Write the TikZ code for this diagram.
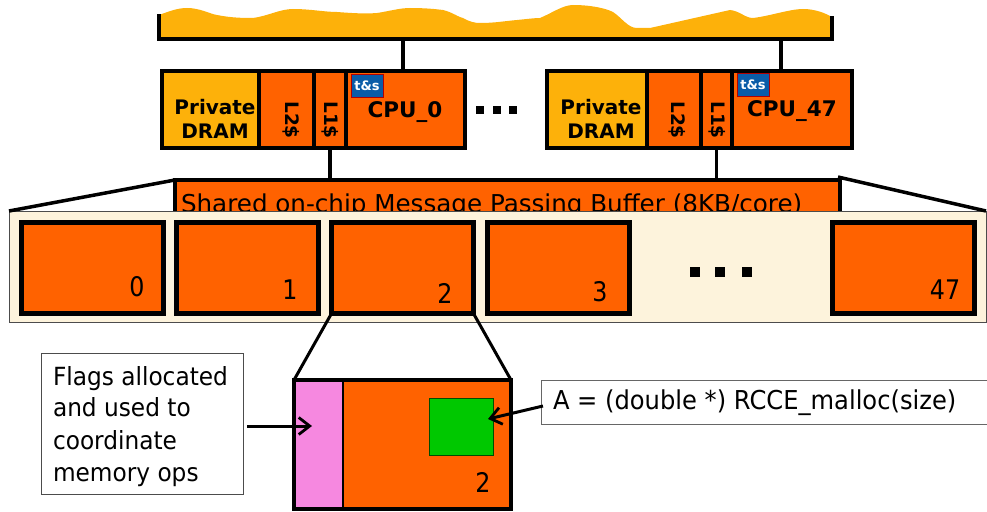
\documentclass[tikz,border=0pt]{standalone}
\usepackage{fontspec}
\setmainfont{DejaVu Sans}
\usetikzlibrary{arrows.meta}
\definecolor{amberc}{HTML}{FDB10A}
\definecolor{orangec}{HTML}{FF6200}
\definecolor{creamc}{HTML}{FDF3DC}
\definecolor{pinkc}{HTML}{F688E0}
\definecolor{greenc}{HTML}{00C800}
\definecolor{bluec}{HTML}{0A5CA8}
\newfontfamily\tahomaish[FakeStretch=0.93]{DejaVu Sans}
\newfontfamily\numfont[FakeStretch=0.88]{DejaVu Sans}
\tikzset{
  every node/.style={outer sep=0pt},
  cell/.style={draw=black,line width=3.2pt,fill=orangec,anchor=north west,inner sep=0pt},
  amber/.style={cell,fill=amberc},
  badge/.style={draw=red!70!black,line width=0.6pt,fill=bluec,text=white,anchor=north west,inner sep=0pt,minimum width=32pt,minimum height=23pt,font=\bfseries\fontsize{13}{13}\selectfont},
  slot/.style={draw=black,line width=5pt,fill=orangec,anchor=north west,inner sep=0pt,minimum width=142pt,minimum height=91pt},
  num/.style={inner sep=0pt,font=\numfont\fontsize{27}{27}\selectfont},
  cachelbl/.style={inner sep=0pt,rotate=-90,font=\bfseries\fontsize{18.5}{19}\selectfont},
  cpulbl/.style={inner sep=0pt,font=\bfseries\fontsize{21.5}{21.5}\selectfont},
  dramlbl/.style={inner sep=0pt,align=center,font=\bfseries\fontsize{20}{24}\selectfont},
  link/.style={line width=3.5pt,draw=black},
  dotm/.style={fill=black,inner sep=0pt,minimum width=8pt,minimum height=8pt},
  note/.style={draw=black!70,line width=0.8pt,fill=white,anchor=north west,inner sep=0pt},
  pointer/.style={line width=3pt,-{Straight Barb[length=11pt,width=17pt,line width=2.8pt]}}
}
\begin{document}
\begin{tikzpicture}[x=1pt,y=-1pt]
\useasboundingbox (0,0) rectangle (987,511);
% shared memory wave
\coordinate (bl) at (159,39);
\coordinate (br) at (832,39);
\fill[amberc] (159,15) .. controls (170,11) and (178,8) .. (187,8) .. controls (200,8) and (210,14) .. (217,15)
 .. controls (232,18) and (245,18) .. (253,18) .. controls (268,16) and (280,9) .. (293,9)
 .. controls (310,9) and (325,12) .. (337,12) .. controls (350,13) and (365,14) .. (377,13)
 .. controls (390,11) and (400,8) .. (410,8) .. controls (425,8) and (435,9) .. (443,10)
 .. controls (452,12) and (460,18) .. (463,18) .. controls (470,22) and (475,23) .. (480,23)
 .. controls (495,23) and (505,21) .. (517,20) .. controls (527,19) and (535,18) .. (540,18)
 .. controls (552,13) and (563,5) .. (573,5) .. controls (590,5) and (605,8) .. (613,12)
 .. controls (622,18) and (628,28) .. (637,28) -- (650,28) -- (730,10)
 .. controls (740,11) and (745,18) .. (753,18) .. controls (770,16) and (790,9) .. (803,9)
 .. controls (815,9) and (825,13) .. (832,17) -- (br) -- (bl) -- cycle;
\draw[line width=3.5pt,line cap=rect] (159,16) -- (bl) -- (br) -- (832,18);
\coordinate (mem0) at (403,39);
\coordinate (mem1) at (781,39);
% left core
\node[amber,minimum width=97pt,minimum height=77pt] (dram0) at (162,71) {};
\node[dramlbl] (dramt0) at (215,119) {Private\\DRAM};
\node[cell,minimum width=55pt,minimum height=77pt] (ltwo0) at (259,71) {};
\node[cell,minimum width=32pt,minimum height=77pt] (lone0) at (314,71) {};
\node[cell,minimum width=119pt,minimum height=77pt] (cpu0) at (346,71) {};
\node[cachelbl] (ltwot0) at (291,120) {L2\$};
\node[cachelbl] (lonet0) at (330,120) {L1\$};
\node[cpulbl] (cput0) at (405,112) {CPU\_0};
\node[badge] (ts0) at (351,74) {t\&s};
% right core
\node[amber,minimum width=100pt,minimum height=77pt] (dram1) at (547,71) {};
\node[dramlbl] (dramt1) at (601,119) {Private\\DRAM};
\node[cell,minimum width=54pt,minimum height=77pt] (ltwo1) at (647,71) {};
\node[cell,minimum width=31pt,minimum height=77pt] (lone1) at (701,71) {};
\node[cell,minimum width=120pt,minimum height=77pt] (cpu1) at (732,71) {};
\node[cachelbl] (ltwot1) at (677,120) {L2\$};
\node[cachelbl] (lonet1) at (717,120) {L1\$};
\node[cpulbl] (cput1) at (792,111) {CPU\_47};
\node[badge] (ts1) at (737,73) {t\&s};
\node[dotm] (td1) at (480,110) {};
\node[dotm] (td2) at (497,110) {};
\node[dotm] (td3) at (513,110) {};
% buffer
\node[draw=black,line width=3.2pt,fill=orangec,anchor=north west,inner sep=0pt,minimum width=665pt,minimum height=50pt] (mpb) at (175,180) {};
\node[anchor=base west,inner sep=0pt,font=\fontsize{24.6}{24}\selectfont] (mpbt) at (181,212) {Shared on-chip Message Passing Buffer (8KB/core)};
\draw[link] (mem0) -- (cpu0.north -| mem0);
\draw[link] (mem1) -- (cpu1.north -| mem1);
\draw[link] (lone0.south) -- (lone0.south |- mpb.north);
\draw[link] (lone1.south) -- (lone1.south |- mpb.north);
% panel
\node[draw=black!70,line width=1pt,fill=creamc,anchor=north west,inner sep=0pt,minimum width=977pt,minimum height=111pt] (panel) at (9,211) {};
\draw[link] (panel.north west) -- (mpb.north west);
\draw[link] (mpb.north east) ++(-2,-3) coordinate (mpbe) -- (panel.north east);
\node[slot] (s0) at (21.5,222.5) {};
\node[slot] (s1) at (176.5,222.5) {};
\node[slot] (s2) at (331.5,222.5) {};
\node[slot] (s3) at (487.5,222.5) {};
\node[slot] (s47) at (832.5,222.5) {};
\node[num] (n0) at (137,287) {0};
\node[num] (n1) at (290,290) {1};
\node[num] (n2) at (445,293) {2};
\node[num] (n3) at (600,292) {3};
\node[num] (n47) at (945,290) {47};
\node[dotm,minimum width=10pt,minimum height=10pt] (d1) at (695,272) {};
\node[dotm,minimum width=10pt,minimum height=10pt] (d2) at (720,272) {};
\node[dotm,minimum width=10pt,minimum height=10pt] (d3) at (747,272) {};
% detail
\node[draw=black,line width=4pt,fill=orangec,anchor=north west,inner sep=0pt,minimum width=217pt,minimum height=128.5pt] (det) at (294,380) {};
\node[draw=black,line width=2.4pt,fill=pinkc,anchor=north west,inner sep=0pt,minimum width=49pt,minimum height=128.5pt] (flag) at (294,380) {};
\draw[black,line width=4pt] (det.north west) rectangle (det.south east);
\node[draw=black!70!green,line width=1pt,fill=greenc,anchor=north west,inner sep=0pt,minimum width=64pt,minimum height=57pt] (buf) at (429,398) {};
\node[num] (n2b) at (483,482) {2};
\draw[line width=3pt] (s2.south west) -- (det.north west);
\draw[line width=3pt] (s2.south east) -- (det.north east);
\node[note,minimum width=202pt,minimum height=141pt] (fnote) at (41,353) {};
\node[anchor=north west,inner sep=0pt,align=left,font=\tahomaish\fontsize{25}{32}\selectfont] (fnotet) at (53,366) {Flags allocated\\and used to\\coordinate\\memory ops};
\node[draw=black!60,line width=0.8pt,fill=white,anchor=north west,inner sep=0pt,minimum width=450pt,minimum height=44pt] (anote) at (541,380) {};
\node[anchor=west,inner sep=0pt,font=\tahomaish\fontsize{26}{26}\selectfont] (anotet) at (553,403) {A = (double *) RCCE\_malloc(size)};
\coordinate (fa) at (247,426);
\coordinate (fb) at (312,426);
\coordinate (aa) at (543,406);
\coordinate (ab) at (488,419);
\draw[pointer] (fa) -- (fb);
\draw[pointer] (aa) -- (ab);
\end{tikzpicture}
\end{document}
